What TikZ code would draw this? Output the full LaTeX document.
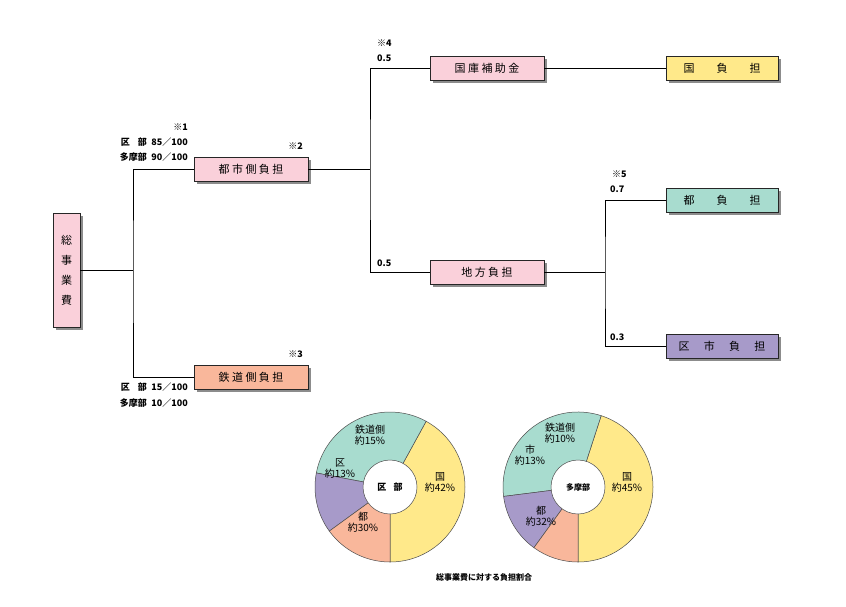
\documentclass[tikz,border=0pt]{standalone}
\usepackage{fontspec}
\setmainfont{Noto Sans CJK JP}
\begin{document}
\begin{tikzpicture}[x=1pt,y=-1pt,
  box/.style={draw=black!85,line width=0.8pt,minimum height=24pt,inner sep=0pt,font=\fontsize{11}{12}\selectfont,
    append after command={}},
  shad/.style={fill=black!45},
  ln/.style={line width=0.7pt},
  lab/.style={font=\bfseries\fontsize{9}{10}\selectfont,inner sep=0pt},
  pl/.style={font=\fontsize{10}{11}\selectfont,inner sep=0pt,align=center},
  sl/.style={draw=black!70,line width=0.5pt}]
\useasboundingbox (0,0) rectangle (846,606);
\definecolor{cpink}{HTML}{FAD0DA}
\definecolor{csal}{HTML}{F9B79B}
\definecolor{cyel}{HTML}{FFE98A}
\definecolor{cteal}{HTML}{A8DCCF}
\definecolor{cpur}{HTML}{A79AC9}
% shadows
\foreach \a/\b/\c/\d in {53/213/80/327,194/157/308/181,194/365/308/389,430/56/544/80,430/260/544/284,666/56/778/80,666/188/778/212,666/334/778/358}
  \fill[shad] (\a+3,\b+3) rectangle (\c+3,\d+3);
\node[box,fill=cpink,minimum width=27pt,minimum height=114pt,align=center] (s) at (66.5,270) {総\\[8pt]事\\[8pt]業\\[8pt]費};
\node[box,fill=cpink,minimum width=114pt] (t) at (251,169) {都 市 側 負 担};
\node[box,fill=csal,minimum width=114pt] (r) at (251,377) {鉄 道 側 負 担};
\node[box,fill=cpink,minimum width=114pt] (k) at (487,68) {国 庫 補 助 金};
\node[box,fill=cpink,minimum width=114pt] (c) at (487,272) {地 方 負 担};
\node[box,fill=cyel,minimum width=112pt] (kf) at (722,68) {国\hspace{2em}負\hspace{2em}担};
\node[box,fill=cteal,minimum width=112pt] (tf) at (722,200) {都\hspace{2em}負\hspace{2em}担};
\node[box,fill=cpur,minimum width=112pt] (kk) at (722,346) {区\hspace{1.3em}市\hspace{1.3em}負\hspace{1.3em}担};
\coordinate (j1) at (133,270);
\coordinate (j2) at (370,169);
\coordinate (j3) at (605,272);
\draw[ln] (s.east) -- (j1);
\draw[ln] (t.west) -| (j1) |- (r.west);
\draw[ln] (t.east) -- (j2);
\draw[ln] (k.west) -| (j2) |- (c.west);
\draw[ln] (k.east) -- (kf.west);
\draw[ln] (c.east) -- (j3);
\draw[ln] (tf.west) -| (j3) |- (kk.west);
% labels
\node[lab,anchor=east] (n1) at (188,127) {※1};
\node[lab,anchor=east] (n1a) at (188,142) {区\hspace{0.9em}部\hspace{0.5em}85／100};
\node[lab,anchor=east] (n1b) at (188,157) {多摩部\hspace{0.5em}90／100};
\node[lab,anchor=east] (n2) at (303,146) {※2};
\node[lab,anchor=east] (n3) at (303,354) {※3};
\node[lab,anchor=east] (n3a) at (188,387) {区\hspace{0.9em}部\hspace{0.5em}15／100};
\node[lab,anchor=east] (n3b) at (188,403) {多摩部\hspace{0.5em}10／100};
\node[lab,anchor=west] (n4) at (377,43) {※4};
\node[lab,anchor=west] (n4a) at (377,58) {0.5};
\node[lab,anchor=west] (n4b) at (377,263) {0.5};
\node[lab,anchor=west] (n5) at (612,174) {※5};
\node[lab,anchor=west] (n5a) at (610,189) {0.7};
\node[lab,anchor=west] (n5b) at (610,337) {0.3};
% pies
\begin{scope}[shift={(390,487)}]
\fill[cyel,sl] (0,0) -- (90:75) arc[start angle=90,end angle=-61.2,radius=75] -- cycle;
\fill[cteal,sl] (0,0) -- (-61.2:75) arc[start angle=-61.2,end angle=-169.2,radius=75] -- cycle;
\fill[cpur,sl] (0,0) -- (-169.2:75) arc[start angle=-169.2,end angle=-216,radius=75] -- cycle;
\fill[csal,sl] (0,0) -- (-216:75) arc[start angle=-216,end angle=-270,radius=75] -- cycle;
\fill[white,sl] (0,0) circle (27);
\node[pl,font=\bfseries\fontsize{9}{10}\selectfont] (pc1) at (0,0) {区\hspace{0.8em}部};
\node[pl] (p11) at (50,-5) {国\\約42\%};
\node[pl] (p12) at (-27,35) {都\\約30\%};
\node[pl] (p13) at (-50,-18) {区\\約13\%};
\node[pl] (p14) at (-20,-52) {鉄道側\\約15\%};
\end{scope}
\begin{scope}[shift={(578,487)}]
\fill[cyel,sl] (0,0) -- (90:75) arc[start angle=90,end angle=-72,radius=75] -- cycle;
\fill[cteal,sl] (0,0) -- (-72:75) arc[start angle=-72,end angle=-187.2,radius=75] -- cycle;
\fill[cpur,sl] (0,0) -- (-187.2:75) arc[start angle=-187.2,end angle=-234,radius=75] -- cycle;
\fill[csal,sl] (0,0) -- (-234:75) arc[start angle=-234,end angle=-270,radius=75] -- cycle;
\fill[white,sl] (0,0) circle (27);
\node[pl,font=\bfseries\fontsize{8}{10}\selectfont] (pc2) at (0,0) {多摩部};
\node[pl] (p21) at (49,-5) {国\\約45\%};
\node[pl] (p22) at (-37,29) {都\\約32\%};
\node[pl] (p23) at (-48,-32) {市\\約13\%};
\node[pl] (p24) at (-18,-54) {鉄道側\\約10\%};
\end{scope}
\node[font=\bfseries\fontsize{8}{10}\selectfont] (cap) at (484,577) {総事業費に対する負担割合};
\end{tikzpicture}
\end{document}
